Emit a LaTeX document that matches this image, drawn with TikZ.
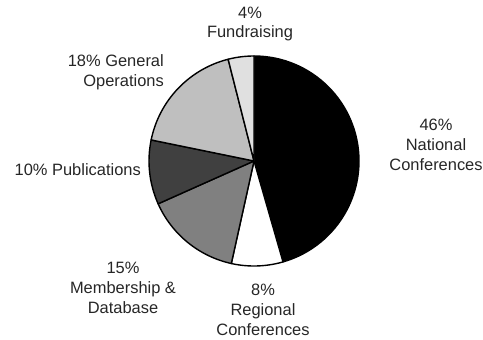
\documentclass[tikz,border=0pt]{standalone}
\usepackage{fontspec}
\setmainfont{Liberation Sans}
\begin{document}
\begin{tikzpicture}[x=1bp,y=1bp,
  lbl/.style={inner sep=0pt,align=center,font=\fontsize{16.5}{20}\selectfont,text=black!85},
  slice/.style={draw=black,line width=1.4bp,line join=round}]
\useasboundingbox (0,0) rectangle (483,339);
\coordinate (c) at (254,178);
\def\R{105}
\foreach \a/\b/\col in {90/-73.96/black, -73.96/-102.48/white, -102.48/-155.94/black!50, -155.94/-191.58/black!75, -191.58/-255.74/black!25, -255.74/-270/black!12}{
  \filldraw[slice,fill=\col] (c) -- ++(\a:\R) arc[start angle=\a, end angle=\b, radius=\R] -- cycle;
}
\node[lbl] (fund) at (250,315) {4\%\\Fundraising};
\node[lbl,anchor=east,align=right] (gen) at (164,267) {18\% General\\Operations};
\node[lbl] (nat) at (436,194) {46\%\\National\\Conferences};
\node[lbl,anchor=east] (pub) at (141,169) {10\% Publications};
\node[lbl] (mem) at (123,51) {15\%\\Membership \&\\Database};
\node[lbl] (reg) at (263,29) {8\%\\Regional\\Conferences};
\end{tikzpicture}
\end{document}
